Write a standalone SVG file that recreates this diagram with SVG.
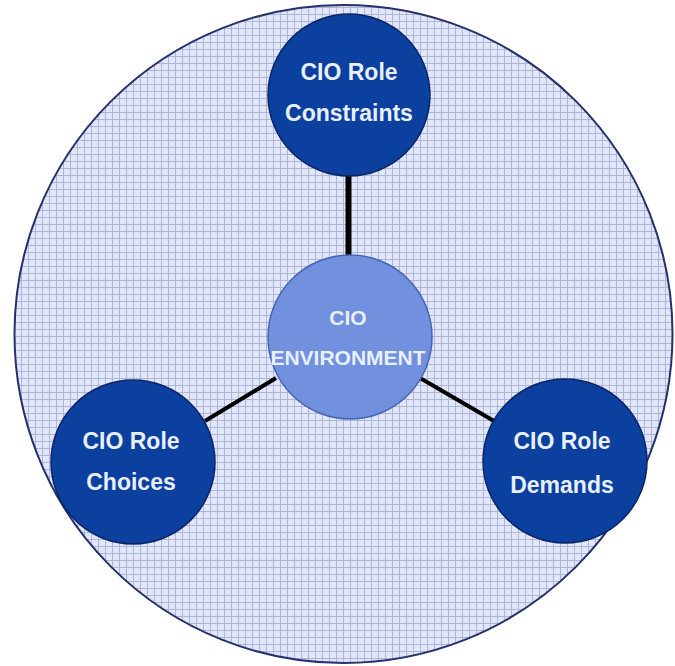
<svg xmlns="http://www.w3.org/2000/svg" width="675" height="666" viewBox="0 0 675 666">
  <defs>
    <pattern id="grid" x="0" y="0" width="7" height="7" patternUnits="userSpaceOnUse">
      <rect width="7" height="7" fill="#e1e6fb"/>
      <path d="M0 0.5H7M0.5 0V7" stroke="#aeb6d6" stroke-width="1" fill="none"/>
    </pattern>
    <style>
      .outer { fill: url(#grid); stroke: #26306a; stroke-width: 2; }
      .role { fill: #0b409f; stroke: #0a2466; stroke-width: 1.5; }
      .core { fill: #7190de; stroke: #4664b4; stroke-width: 1.5; }
      .lbl { font-family: "Liberation Sans", Arial, sans-serif; font-weight: bold; fill: #e8efff; text-anchor: middle; }
      .role-t { font-size: 23px; }
      .core-t { font-size: 21px; }
      .conn { stroke: #000000; fill: none; }
    </style>
  </defs>
  <rect width="675" height="666" fill="#ffffff"/>
  <g id="environment-boundary">
    <circle class="outer" cx="343.5" cy="334" r="329"/>
  </g>
  <g id="connectors">
    <line class="conn" x1="348.5" y1="172" x2="348.5" y2="258" stroke-width="6"/>
    <line class="conn" x1="276" y1="378" x2="205" y2="421" stroke-width="4"/>
    <line class="conn" x1="420" y1="378" x2="494" y2="421" stroke-width="4"/>
  </g>
  <g id="constraints">
    <circle class="role" cx="349" cy="95" r="81"/>
    <text class="lbl role-t" x="349" y="80">CIO Role</text>
    <text class="lbl role-t" x="349" y="121">Constraints</text>
  </g>
  <g id="cio-environment">
    <circle class="core" cx="350" cy="337" r="82"/>
    <text class="lbl core-t" x="348" y="325">CIO</text>
    <text class="lbl core-t" x="348" y="365">ENVIRONMENT</text>
  </g>
  <g id="choices">
    <circle class="role" cx="133" cy="462" r="82"/>
    <text class="lbl role-t" x="131" y="449">CIO Role</text>
    <text class="lbl role-t" x="131" y="490">Choices</text>
  </g>
  <g id="demands">
    <circle class="role" cx="565" cy="461" r="82"/>
    <text class="lbl role-t" x="562" y="449">CIO Role</text>
    <text class="lbl role-t" x="562" y="493">Demands</text>
  </g>
</svg>
